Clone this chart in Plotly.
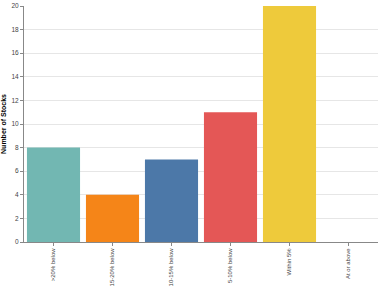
import plotly.graph_objects as go

categories = [">20% below", "15-20% below", "10-15% below", "5-10% below", "Within 5%", "At or above"]
counts = [8, 4, 7, 11, 20, 0]
colors = ["#72b7b2", "#f58518", "#4c78a8", "#e45756", "#eeca3b", "#b279a2"]

fig = go.Figure(go.Bar(x=categories, y=counts, marker=dict(color=colors, line=dict(width=0)), width=0.9))

fig.update_layout(
    width=380, height=287,
    margin=dict(l=24, r=2, t=6, b=45),
    paper_bgcolor="white", plot_bgcolor="white",
    font=dict(family="Liberation Sans, Arial, sans-serif", size=6, color="#444"),
    showlegend=False,
)
fig.update_xaxes(
    automargin=False,
    showline=True, linecolor="#888", linewidth=1,
    ticks="outside", ticklen=3, tickcolor="#888",
    tickangle=-90, tickfont=dict(size=6, color="#444"),
    showgrid=False,
)
fig.update_yaxes(
    automargin=False,
    range=[0, 20], dtick=2,
    showline=True, linecolor="#888", linewidth=1,
    ticks="outside", ticklen=3, tickcolor="#888",
    showgrid=True, gridcolor="#e6e6e6", gridwidth=1,
    zeroline=False,
    tickfont=dict(size=6.5, color="#444"),
    title=dict(text="<b>Number of Stocks</b>", font=dict(size=7, color="#000"), standoff=4),
)

fig.write_html("out.html")
